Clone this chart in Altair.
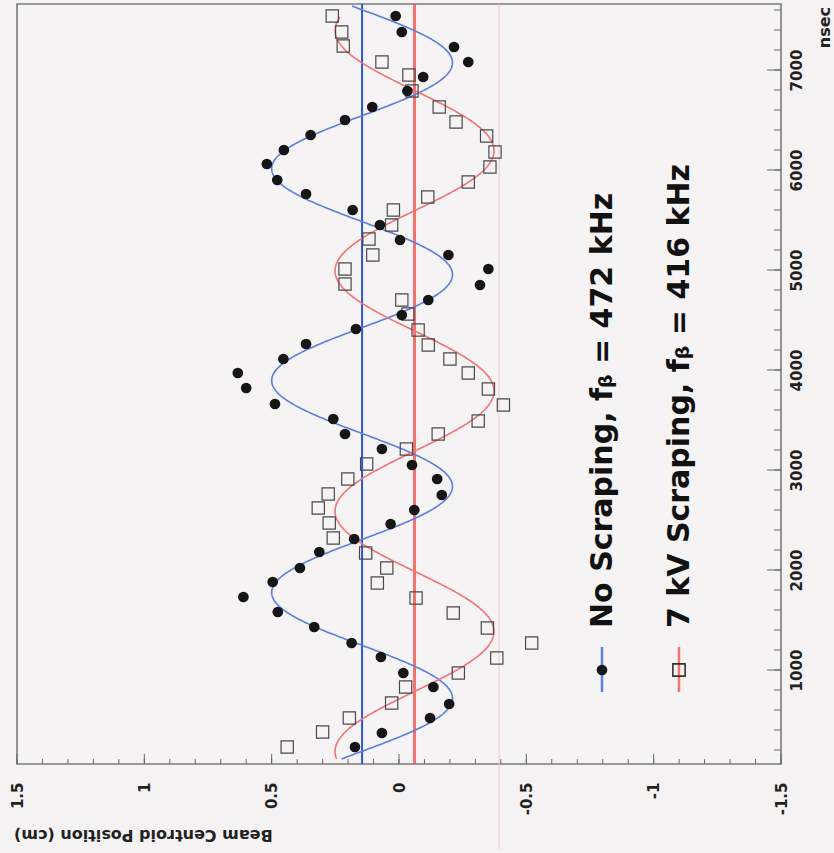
import numpy as np
import pandas as pd
import altair as alt

# ---- measured beam centroid positions (time in nsec, position in cm) ----
TIME_NO_SCRAPING = [230, 370, 520, 660, 830, 970, 1130, 1270, 1430, 1580,
                    1730, 1880, 2020, 2180, 2310, 2460, 2600, 2750, 2910, 3050,
                    3210, 3360, 3510, 3660, 3820, 3970, 4110, 4260, 4410, 4550,
                    4700, 4850, 5010, 5150, 5300, 5450, 5600, 5760, 5900, 6060,
                    6200, 6350, 6500, 6630, 6790, 6930, 7080, 7230, 7380, 7540]
POS_NO_SCRAPING = [0.173, 0.067, -0.122, -0.197, -0.135, -0.017, 0.071, 0.186, 0.333, 0.476,
                   0.611, 0.496, 0.389, 0.313, 0.176, 0.033, -0.060, -0.168, -0.150, -0.051,
                   0.067, 0.212, 0.258, 0.487, 0.600, 0.633, 0.454, 0.365, 0.169, -0.011,
                   -0.115, -0.318, -0.351, -0.194, -0.004, 0.075, 0.182, 0.365, 0.478, 0.519,
                   0.452, 0.347, 0.212, 0.105, -0.033, -0.095, -0.272, -0.216, -0.011, 0.013]

TIME_SCRAPING = [230, 380, 520, 670, 830, 970, 1120, 1270, 1420, 1570,
                 1720, 1870, 2020, 2170, 2320, 2470, 2620, 2760, 2910, 3060,
                 3210, 3360, 3490, 3650, 3810, 3970, 4110, 4250, 4400, 4560,
                 4700, 4860, 5010, 5150, 5310, 5450, 5600, 5730, 5880, 6030,
                 6180, 6340, 6480, 6630, 6790, 6950, 7080, 7240, 7380, 7540]
POS_SCRAPING = [0.439, 0.300, 0.195, 0.029, -0.026, -0.233, -0.384, -0.521, -0.347, -0.213,
                -0.067, 0.085, 0.048, 0.131, 0.258, 0.274, 0.317, 0.278, 0.201, 0.127,
                -0.029, -0.154, -0.311, -0.410, -0.351, -0.272, -0.200, -0.115, -0.075, -0.035,
                -0.011, 0.212, 0.212, 0.103, 0.118, 0.029, 0.022, -0.113, -0.272, -0.357,
                -0.377, -0.344, -0.224, -0.158, -0.051, -0.039, 0.067, 0.219, 0.225, 0.262]

# ---- sinusoidal fit parameters: offset (cm), amplitude (cm), f_beta (kHz), phase time (nsec) ----
FIT_NO_SCRAPING = dict(offset=0.145, amp=0.355, f_khz=472.0, t0=1776.0, t_range=(110, 7640))
FIT_SCRAPING = dict(offset=-0.061, amp=0.312, f_khz=416.0, t0=184.0, t_range=(110, 7530))

POSITION_TICKS = [1.5, 1, 0.5, 0, -0.5, -1, -1.5]
TIME_TICKS = [1000, 2000, 3000, 4000, 5000, 6000, 7000]
POSITION_MINOR = [round(-1.5 + 0.1 * i, 1) for i in range(31)]
TIME_MINOR = [200 * i for i in range(1, 39)]
SCAN_LINE = [-0.393]

LABEL_NO = "No Scraping, f\u1d66 = 472 kHz"
LABEL_7KV = "7 kV Scraping, f\u1d66 = 416 kHz"

W, H = 764, 760
FONT = "DejaVu Sans"
BLUE_FIT, BLUE_LINE = "#5a7ede", "#2f56d2"
RED_FIT, RED_LINE = "#f07474", "#f06464"


def fit_curve(p, n=700):
    t = np.linspace(p["t_range"][0], p["t_range"][1], n)
    period = 1e6 / p["f_khz"]  # nsec
    v = p["offset"] + p["amp"] * np.cos(2 * np.pi * (t - p["t0"]) / period)
    return pd.DataFrame({"t": t, "p": v})


xscale = alt.Scale(domain=[-1.5, 1.5], reverse=True, nice=False, zero=False)
yscale = alt.Scale(domain=[60, 7660], nice=False, zero=False)

# axes carry labels only; the inward tick marks are drawn as rules below
x_axis = alt.Axis(values=POSITION_TICKS, labelExpr="'' + datum.value", title=None,
                  ticks=False, tickSize=0, domain=False, grid=False,
                  labelAngle=270, labelAlign="right", labelBaseline="middle",
                  labelPadding=18, labelFont=FONT, labelFontSize=15,
                  labelFontWeight="bold", labelColor="#222", labelFlush=False,
                  labelOverlap=False)
y_axis = alt.Axis(values=TIME_TICKS, labelExpr="'' + datum.value", title=None,
                  orient="right", ticks=False, tickSize=0, domain=False, grid=False,
                  labelAngle=270, labelAlign="center", labelBaseline="middle",
                  labelPadding=15, labelFont=FONT, labelFontSize=15,
                  labelFontWeight="bold", labelColor="#222", labelFlush=False,
                  labelOverlap=False)


def X():
    return alt.X("p:Q", scale=xscale, axis=x_axis)


def Y():
    return alt.Y("t:Q", scale=yscale, axis=y_axis)


df_no = pd.DataFrame({"t": TIME_NO_SCRAPING, "p": POS_NO_SCRAPING})
df_kv = pd.DataFrame({"t": TIME_SCRAPING, "p": POS_SCRAPING})

# inward tick marks on the bottom and right edges
bottom_minor = alt.Chart(pd.DataFrame({"p": POSITION_MINOR})).mark_rule(
    color="#666", strokeWidth=1).encode(x=X(), y=alt.value(H), y2=alt.value(H - 5))
bottom_major = alt.Chart(pd.DataFrame({"p": POSITION_TICKS})).mark_rule(
    color="#666", strokeWidth=1).encode(x=X(), y=alt.value(H), y2=alt.value(H - 10))
right_minor = alt.Chart(pd.DataFrame({"t": TIME_MINOR})).mark_rule(
    color="#666", strokeWidth=1).encode(y=Y(), x=alt.value(W), x2=alt.value(W - 7))
right_major = alt.Chart(pd.DataFrame({"t": TIME_TICKS})).mark_rule(
    color="#666", strokeWidth=1).encode(y=Y(), x=alt.value(W), x2=alt.value(W - 14))

scan = alt.Chart(pd.DataFrame({"p": SCAN_LINE})).mark_rule(
    color="#f2c4dc", strokeWidth=1).encode(x=X(), y=alt.value(0), y2=alt.value(H + 85))

# fitted offsets
off_no = alt.Chart(pd.DataFrame({"p": [FIT_NO_SCRAPING["offset"]]})).mark_rule(
    color=BLUE_LINE, strokeWidth=2).encode(x=X(), y=alt.value(0), y2=alt.value(H))
off_kv = alt.Chart(pd.DataFrame({"p": [FIT_SCRAPING["offset"]]})).mark_rule(
    color=RED_LINE, strokeWidth=3, opacity=0.9).encode(x=X(), y=alt.value(0), y2=alt.value(H))

# fitted sinusoids
curve_no = alt.Chart(fit_curve(FIT_NO_SCRAPING)).mark_line(
    color=BLUE_FIT, strokeWidth=1.6).encode(x=X(), y=Y(), order="t:Q")
curve_kv = alt.Chart(fit_curve(FIT_SCRAPING)).mark_line(
    color=RED_FIT, strokeWidth=1.6).encode(x=X(), y=Y(), order="t:Q")

squares = alt.Chart(df_kv).mark_point(
    shape="square", filled=False, size=150, stroke="#4a4a4a", strokeWidth=1.2,
    opacity=1).encode(x=X(), y=Y())
circles = alt.Chart(df_no).mark_circle(
    size=115, color="#161616", opacity=1).encode(x=X(), y=Y())

# legend
leg_x1, leg_x2, leg_y = 585, 662, 666
legend_lines = alt.Chart(pd.DataFrame({"c": [BLUE_FIT, RED_FIT], "x": [leg_x1, leg_x2]})).mark_rule(
    strokeWidth=2.5).encode(
    x=alt.X("x:Q", scale=None), y=alt.value(leg_y - 23), y2=alt.value(leg_y + 22),
    color=alt.Color("c:N", scale=None))
legend_dot = alt.Chart(pd.DataFrame({"x": [leg_x1]})).mark_circle(
    size=115, color="#161616", opacity=1).encode(x=alt.X("x:Q", scale=None), y=alt.value(leg_y))
legend_sq = alt.Chart(pd.DataFrame({"x": [leg_x2]})).mark_point(
    shape="square", filled=False, size=150, stroke="#333", strokeWidth=1.6, opacity=1).encode(
    x=alt.X("x:Q", scale=None), y=alt.value(leg_y))
legend_text = alt.Chart(pd.DataFrame({"label": [LABEL_NO, LABEL_7KV], "x": [586, 663]})).mark_text(
    angle=270, align="left", baseline="middle", font=FONT, fontSize=30,
    fontWeight="bold", color="#111").encode(
    x=alt.X("x:Q", scale=None), y=alt.value(624), text="label:N")

# axis titles
pos_title = alt.Chart(pd.DataFrame({"s": ["Beam Centroid Position (cm)"]})).mark_text(
    angle=180, align="right", baseline="middle", font=FONT, fontSize=16,
    fontWeight="bold", color="#222").encode(x=alt.value(-3), y=alt.value(831), text="s:N")
time_title = alt.Chart(pd.DataFrame({"s": ["nsec"]})).mark_text(
    angle=270, align="right", baseline="middle", font=FONT, fontSize=16,
    fontWeight="bold", color="#222").encode(x=alt.value(808), y=alt.value(3), text="s:N")

chart = alt.layer(
    scan, off_no, off_kv, curve_no, curve_kv, squares, circles,
    bottom_minor, bottom_major, right_minor, right_major,
    legend_lines, legend_dot, legend_sq, legend_text, pos_title, time_title,
).properties(
    width=W, height=H,
    padding={"left": 17, "top": 4, "right": 53, "bottom": 89},
    autosize=alt.AutoSizeParams(type="none"),
    background="#f4f2f3",
).configure_view(
    stroke="#7c7c7c", strokeWidth=1.6, fill="#f5f3f4",
)

chart.save("out.html", embed_options={"renderer": "svg", "actions": False})
